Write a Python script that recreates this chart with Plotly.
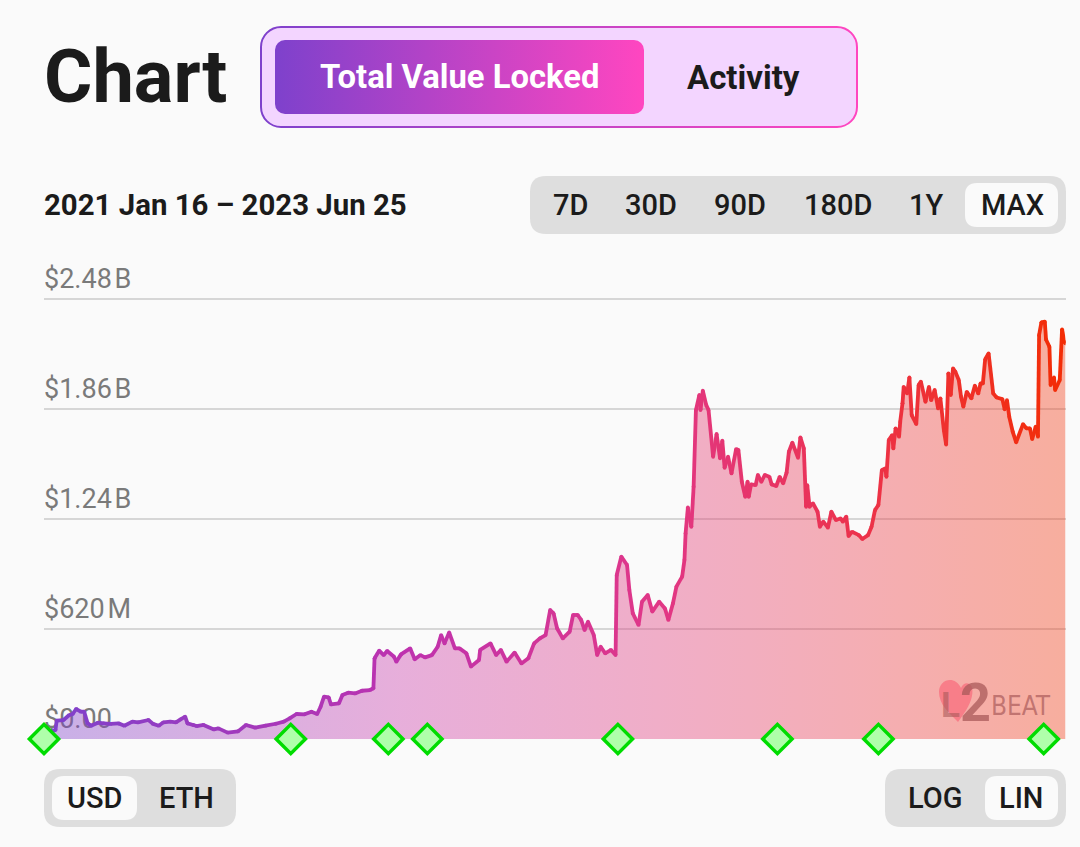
import base64
import pandas as pd
import plotly.graph_objects as go

W, H = 1080, 847

# ---- data ----
START_DATE = "2021-01-16"
END_DATE = "2023-06-25"
TVL_DAYS = [0, 10, 11, 17, 22, 25, 28, 32, 35, 38, 41, 47, 52, 58, 65, 70, 77, 82, 91, 95, 100, 104, 110, 115, 119, 123,
            125, 130, 133, 139, 148, 152, 160, 169, 176, 184, 193, 202, 209, 214, 220, 227, 233, 238, 241, 244, 248, 250,
            257, 260, 265, 271, 277, 284, 287, 288, 292, 296, 299, 305, 307, 311, 319, 323, 328, 332, 338, 343, 346, 349,
            353, 358, 362, 368, 372, 379, 380, 389, 394, 398, 403, 410, 416, 422, 427, 432, 437, 441, 444, 447, 452, 458,
            461, 465, 468, 471, 474, 479, 482, 485, 489, 494, 498, 499, 503, 508, 510, 513, 518, 521, 526, 530, 536, 541,
            544, 548, 551, 556, 558, 559, 561, 564, 566, 568, 571, 572, 574, 577, 579, 583, 586, 589, 591, 593, 596, 599,
            603, 605, 608, 611, 613, 614, 616, 620, 622, 625, 628, 632, 634, 638, 641, 644, 647, 649, 652, 657, 659, 662,
            664, 665, 667, 670, 674, 676, 679, 683, 686, 690, 694, 696, 699, 701, 704, 710, 713, 718, 721, 724, 727, 730,
            733, 734, 736, 739, 740, 742, 745, 746, 748, 749, 752, 754, 756, 760, 762, 764, 768, 771, 773, 776, 779, 781,
            784, 786, 788, 790, 792, 794, 797, 799, 801, 804, 808, 811, 814, 816, 818, 820, 823, 827, 830, 835, 837, 839,
            841, 844, 847, 853, 856, 859, 861, 864, 866, 867, 869, 872, 873, 876, 877, 880, 881, 885, 887, 889, 890]
TVL_MILLIONS = [30, 51, 103, 107, 135, 141, 169, 154, 154, 88, 75, 92, 88, 85, 88, 75, 98, 94, 107, 85, 75, 94, 98, 94, 111, 126,
                88, 79, 73, 79, 54, 60, 36, 43, 79, 64, 75, 86, 98, 116, 141, 139, 154, 141, 182, 239, 235, 195,
                201, 248, 261, 257, 272, 276, 286, 455, 498, 473, 496, 464, 436, 477, 511, 449, 473, 460, 473, 520, 586, 539,
                601, 511, 511, 483, 408, 445, 502, 539, 473, 502, 436, 487, 426, 455, 539, 567, 586, 727, 708, 624, 567, 605,
                699, 699, 671, 614, 661, 586, 473, 520, 483, 502, 473, 924, 1028, 981, 840, 708, 643, 774, 812, 718, 774, 736,
                671, 765, 859, 915, 1009, 1159, 1305, 1196, 1422, 1854, 1939, 1854, 1963, 1882, 1854, 1591, 1719, 1582, 1681, 1529, 1591, 1497,
                1634, 1629, 1450, 1365, 1450, 1365, 1435, 1431, 1488, 1450, 1488, 1478, 1435, 1426, 1478, 1441, 1501, 1619, 1670, 1585, 1700, 1638,
                1309, 1431, 1309, 1328, 1281, 1196, 1225, 1191, 1281, 1234, 1243, 1225, 1253, 1144, 1168, 1149, 1127, 1149, 1196, 1290, 1319, 1516,
                1525, 1478, 1685, 1713, 1638, 1751, 1704, 1788, 1892, 1985, 1948, 2038, 1826, 1775, 1995, 2014, 1901, 1985, 1910, 1967, 1863, 1920,
                1741, 1660, 2061, 1939, 2089, 2070, 2023, 1929, 1873, 1957, 1920, 1991, 1948, 2004, 2004, 2140, 2173, 1948, 1925, 1916, 1858, 1910,
                1816, 1732, 1672, 1775, 1751, 1751, 1691, 1760, 1704, 2277, 2348, 2352, 2252, 2211, 1995, 2038, 1967, 2023, 2309, 2239, 2230]
EVENT_DAYS = [0, 215, 300, 334, 500, 639, 727, 871]
TICK_VALUES = [0, 620, 1240, 1860, 2480]
TICK_LABELS = ["$0.00", "$620\u200aM", "$1.24\u200aB", "$1.86\u200aB", "$2.48\u200aB"]
RANGE_LABELS = ["7D", "30D", "90D", "180D", "1Y", "MAX"]

# ---- style ----
BG = "#fafafa"
INK = "#1b1b1b"
LINE_WIDTH = 3.8
LINE_STOPS = [(0.0, (126, 65, 204)), (0.35, (190, 50, 175)), (0.6, (225, 55, 135)), (0.8, (236, 50, 75)), (1.0, (243, 45, 5))]
FILL_STOPS = [(0.0, (126, 65, 204, 0.40)), (0.35, (205, 70, 175, 0.42)), (0.6, (225, 60, 125, 0.40)),
              (0.8, (236, 60, 75, 0.40)), (1.0, (243, 60, 20, 0.40))]
# y axis runs a little past the top tick so the top label and grid line stay in the plot area
AXIS_TOP_VALUE = 2800
PX_PER_MILLION = 440 / 2480


def mix(stops, t):
    for (t0, c0), (t1, c1) in zip(stops, stops[1:]):
        if t <= t1:
            f = (t - t0) / (t1 - t0)
            return [a + (b - a) * f for a, b in zip(c0, c1)]
    return list(stops[-1][1])


def rgb(c):
    return "rgb(%d,%d,%d)" % tuple(round(v) for v in c[:3])


def to_date(days):
    return pd.Timestamp(START_DATE) + pd.to_timedelta(days, unit="D")


def px(x):
    return x / W


def py(y):
    return 1 - y / H


dates = [to_date(d) for d in TVL_DAYS]
span = TVL_DAYS[-1] - TVL_DAYS[0]

fig = go.Figure()

# area
fig.add_trace(go.Scatter(
    x=dates, y=TVL_MILLIONS, mode="lines", line=dict(width=0), fill="tozeroy",
    fillgradient=dict(type="horizontal", colorscale=[
        [t, "rgba(%d,%d,%d,%.2f)" % c] for t, c in FILL_STOPS]),
    hoverinfo="skip", showlegend=False))

# line with colour running along x
for i in range(len(dates) - 1):
    t = (TVL_DAYS[i] + TVL_DAYS[i + 1]) / 2 / span
    fig.add_trace(go.Scatter(
        x=dates[i:i + 2], y=TVL_MILLIONS[i:i + 2], mode="lines",
        line=dict(color=rgb(mix(LINE_STOPS, t)), width=LINE_WIDTH),
        hoverinfo="skip", showlegend=False))
fig.add_trace(go.Scatter(
    x=dates, y=TVL_MILLIONS, mode="markers",
    marker=dict(size=LINE_WIDTH, color=[rgb(mix(LINE_STOPS, d / span)) for d in TVL_DAYS]),
    hoverinfo="skip", showlegend=False))

# event markers
fig.add_trace(go.Scatter(
    x=[to_date(d) for d in EVENT_DAYS], y=[0] * len(EVENT_DAYS), mode="markers", cliponaxis=False,
    marker=dict(symbol="diamond", size=22.5, color="#afffaa", line=dict(color="#00dc00", width=3.5)),
    hoverinfo="skip", showlegend=False))


def round_rect(x0, y0, x1, y1, r, fill):
    p = (f"M {px(x0 + r)} {py(y0)} L {px(x1 - r)} {py(y0)} Q {px(x1)} {py(y0)} {px(x1)} {py(y0 + r)} "
         f"L {px(x1)} {py(y1 - r)} Q {px(x1)} {py(y1)} {px(x1 - r)} {py(y1)} "
         f"L {px(x0 + r)} {py(y1)} Q {px(x0)} {py(y1)} {px(x0)} {py(y1 - r)} "
         f"L {px(x0)} {py(y0 + r)} Q {px(x0)} {py(y0)} {px(x0 + r)} {py(y0)} Z")
    return dict(type="path", path=p, xref="paper", yref="paper", fillcolor=fill, line=dict(width=0), layer="below")


def svg_image(x0, y0, x1, y1, body):
    w, h = x1 - x0, y1 - y0
    svg = (f'<svg xmlns="http://www.w3.org/2000/svg" width="{w}" height="{h}" viewBox="0 0 {w} {h}">'
           '<defs><linearGradient id="g" x1="0" y1="0" x2="1" y2="0">'
           '<stop offset="0" stop-color="#7e41cc"/><stop offset="1" stop-color="#ff46c0"/></linearGradient></defs>'
           f'{body.format(w=w, h=h, w2=w - 2, h2=h - 2)}</svg>')
    src = "data:image/svg+xml;base64," + base64.b64encode(svg.encode()).decode()
    return dict(source=src, xref="paper", yref="paper", x=px(x0), y=py(y0), sizex=(x1 - x0) / W, sizey=(y1 - y0) / H,
                xanchor="left", yanchor="top", sizing="stretch", layer="below")


images = [
    svg_image(260, 26, 858, 128, '<rect x="1" y="1" width="{w2}" height="{h2}" rx="20" fill="#f3d5ff" stroke="url(#g)" stroke-width="2"/>'),
    svg_image(275, 40, 644, 114, '<rect x="0" y="0" width="{w}" height="{h}" rx="10" fill="url(#g)"/>'),
]

shapes = [
    round_rect(530, 176, 1066, 234, 16, "#dedede"),
    round_rect(965, 183, 1058, 227, 12, BG),
    round_rect(44, 769, 236, 827, 16, "#dedede"),
    round_rect(52, 776, 137, 820, 12, BG),
    round_rect(885, 769, 1066, 827, 16, "#dedede"),
    round_rect(985, 776, 1058, 820, 12, BG),
]
# logo heart
shapes.append(dict(
    type="path", xref="paper", yref="paper", layer="above", fillcolor="rgba(248,110,125,0.75)", line=dict(width=0),
    path=(f"M {px(958)} {py(722)} C {px(948)} {py(712)} {px(939)} {py(704)} {px(939)} {py(692)} "
          f"C {px(939)} {py(679)} {px(955)} {py(675)} {px(961)} {py(688)} "
          f"C {px(964)} {py(680)} {px(975)} {py(682)} {px(972)} {py(696)} "
          f"C {px(970)} {py(706)} {px(963)} {py(715)} {px(958)} {py(722)} Z")))


def label(text, x, y, size, weight=500, color=INK, anchor="center", family="Roboto"):
    return dict(text=text, xref="paper", yref="paper", x=px(x), y=py(y), xanchor=anchor, yanchor="middle",
                showarrow=False, font=dict(family=family, size=size, color=color, weight=weight))


annotations = [
    label("Chart", 42, 76, 74, 700, anchor="left"),
    label("Total Value Locked", 459, 77, 32.8, 700, color="#ffffff"),
    label("Activity", 743.5, 77, 33, 700),
    label("2021 Jan 16 \u2013 2023 Jun 25", 42, 205, 29.4, 700, anchor="left"),
    label("USD", 94, 798, 29),
    label("ETH", 186, 798, 29),
    label("LOG", 935, 798, 29),
    label("LIN", 1021, 798, 29),
    label("L", 950, 705, 35, 700, color="rgba(170,90,90,0.62)"),
    label("2", 975, 702, 54, 700, color="rgba(170,90,90,0.75)"),
    label("BEAT", 1021, 706, 26, 400, color="rgba(170,90,90,0.7)", family="DejaVu Sans Condensed"),
]
for text, cx in zip(RANGE_LABELS, [570, 651, 740, 838, 926, 1012]):
    annotations.append(label(text, cx, 205, 29))

fig.update_layout(
    width=W, height=H, autosize=False,
    margin=dict(l=0, r=0, t=0, b=0),
    paper_bgcolor=BG, plot_bgcolor=BG,
    showlegend=False,
    xaxis=dict(domain=[px(44), px(1065.5)], range=[to_date(0), pd.Timestamp(END_DATE)], visible=False, fixedrange=True),
    yaxis=dict(domain=[py(739), py(739 - AXIS_TOP_VALUE * PX_PER_MILLION)], range=[TICK_VALUES[0], AXIS_TOP_VALUE],
               tickmode="array", tickvals=TICK_VALUES, ticktext=TICK_LABELS,
               ticklabelposition="inside top", ticks="", layer="below traces",
               ticklabelstandoff=-3, ticklabelshift=-2,
               tickfont=dict(family="Roboto", size=27, color="#7a7a7a"),
               showgrid=True, gridcolor="#d6d6d6", gridwidth=1.5, zeroline=False, showline=False, fixedrange=True),
    shapes=shapes, images=images, annotations=annotations,
)

fig.write_html("out.html", config={"displayModeBar": False},
               post_script="document.body.style.margin='0';document.body.style.overflow='hidden';")
